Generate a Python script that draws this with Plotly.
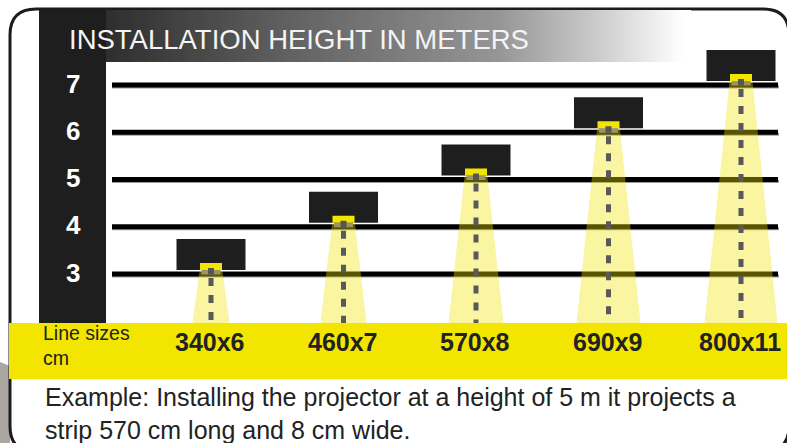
import plotly.graph_objects as go

# ---------------- data ----------------
heights = [3, 4, 5, 6, 7]
height_labels = ["3", "4", "5", "6", "7"]
sizes = ["340x6", "460x7", "570x8", "690x9", "800x11"]
title_text = "INSTALLATION HEIGHT IN METERS"
band_caption = "Line sizes<br>cm"
example_text = ("Example: Installing the projector at a height of 5 m it projects a<br>"
                "strip 570 cm long and 8 cm wide.")

# ---------------- geometry helpers (styling) ----------------
W, H = 787, 443
X0_PX, X_STEP = 211.0, 132.5     # pixel of first column centre, px per column
Y0_PX, Y_STEP = 415.75, 47.25    # pixel of 0 m, px per metre

xr = [-X0_PX / X_STEP, (W - X0_PX) / X_STEP]
yr = [(Y0_PX - H) / Y_STEP, Y0_PX / Y_STEP]


def px(x):
    return x / W


def py(y):
    return 1 - y / H


def dxp(p):
    return p / X_STEP


def dyp(p):
    return p / Y_STEP


band_top_m = (Y0_PX - 323) / Y_STEP
band_bot_m = (Y0_PX - 379) / Y_STEP
FONT = "Liberation Sans, Arial, sans-serif"

shapes = []

# outside photo fragment (bottom-left)
shapes.append(dict(type="path", xref="paper", yref="paper", layer="below",
                   path=f"M {px(0)},{py(362)} L {px(10)},{py(366)} L {px(10)},{py(443)} L {px(0)},{py(443)} Z",
                   fillcolor="#a9a7a0", line=dict(width=0)))

# rounded frame
L, T, R, B, r = 10, 9, 789, 452, 26
def P(x, y):
    return f"{px(x)},{py(y)}"
frame_path = (f"M {P(L + r, T)} L {P(R - r, T)} Q {P(R, T)} {P(R, T + r)} "
              f"L {P(R, B - r)} Q {P(R, B)} {P(R - r, B)} L {P(L + r, B)} "
              f"Q {P(L, B)} {P(L, B - r)} L {P(L, T + r)} Q {P(L, T)} {P(L + r, T)} Z")
shapes.append(dict(type="path", xref="paper", yref="paper", layer="below",
                   path=frame_path, fillcolor="white", line=dict(color="#1c1c1c", width=3)))

# header gradient
stops = [(106, 46), (300, 100), (500, 150), (600, 205), (683, 255)]


def grey_at(x):
    for (x1, g1), (x2, g2) in zip(stops[:-1], stops[1:]):
        if x1 <= x <= x2:
            return g1 + (g2 - g1) * (x - x1) / (x2 - x1)
    return 255


shapes.append(dict(type="rect", xref="paper", yref="paper", layer="below",
                   x0=px(39), x1=px(106), y0=py(62), y1=py(10),
                   fillcolor="#1e1e1e", line=dict(width=0)))
xs = 106
while xs < 690:
    g = int(round(grey_at(xs + 1.5)))
    shapes.append(dict(type="rect", xref="paper", yref="paper", layer="below",
                       x0=px(xs), x1=px(xs + 3.2), y0=py(62), y1=py(10),
                       fillcolor=f"rgb({g},{g},{g})", line=dict(width=0)))
    xs += 3

# left dark column
shapes.append(dict(type="rect", xref="paper", yref="paper", layer="below",
                   x0=px(39), x1=px(106), y0=py(324), y1=py(62),
                   fillcolor="#1e1e1e", line=dict(width=0)))

# horizontal height lines
for h in heights:
    shapes.append(dict(type="line", xref="paper", yref="y", layer="below",
                       x0=px(112), x1=px(779), y0=h - dyp(2), y1=h - dyp(2),
                       line=dict(color="#9a9a9a", width=3)))
    shapes.append(dict(type="line", xref="paper", yref="y", layer="below",
                       x0=px(112), x1=px(778), y0=h, y1=h,
                       line=dict(color="#000000", width=5)))

# yellow band
shapes.append(dict(type="rect", xref="paper", yref="y", layer="below",
                   x0=px(9), x1=px(787), y0=band_bot_m, y1=band_top_m,
                   fillcolor="#f2e600", line=dict(width=0)))

# ---------------- traces: beams and dashed axes ----------------
fig = go.Figure()
for i, h in enumerate(heights):
    top = dxp(11.5)
    bot = dxp(18.5 + 4.5 * (h - heights[0]))
    ytop = h + dyp(3)
    fig.add_trace(go.Scatter(
        x=[i - top, i + top, i + bot, i - bot, i - top],
        y=[ytop, ytop, band_top_m, band_top_m, ytop],
        fill="toself", fillcolor="rgba(242,228,0,0.37)",
        mode="lines", line=dict(width=0), hoverinfo="skip", showlegend=False))
for i, h in enumerate(heights):
    fig.add_trace(go.Scatter(
        x=[i, i], y=[h - dyp(4), band_top_m],
        mode="lines", line=dict(color="#595959", width=5, dash="8px,9px"),
        hoverinfo="skip", showlegend=False))

# ---------------- projectors (above traces) ----------------
for i, h in enumerate(heights):
    base = h + dyp(4)
    shapes.append(dict(type="rect", xref="x", yref="y", layer="above",
                       x0=i - dxp(34.5), x1=i + dxp(34.5), y0=base, y1=base + dyp(31),
                       fillcolor="#1e1e1e", line=dict(width=0)))
    shapes.append(dict(type="rect", xref="x", yref="y", layer="above",
                       x0=i - dxp(11), x1=i + dxp(11), y0=base, y1=base + dyp(7),
                       fillcolor="#f2e600", line=dict(width=0)))
    shapes.append(dict(type="rect", xref="x", yref="y", layer="above",
                       x0=i - dxp(9.5), x1=i + dxp(9.5), y0=base - dyp(4.5), y1=base,
                       fillcolor="#9c9562", line=dict(width=0)))
    shapes.append(dict(type="rect", xref="x", yref="y", layer="above",
                       x0=i - dxp(3), x1=i + dxp(3), y0=base - dyp(4.5), y1=base + dyp(2),
                       fillcolor="#555555", line=dict(width=0)))

# ---------------- annotations ----------------
ann = []
ann.append(dict(text=title_text, xref="paper", yref="paper", x=px(67), y=py(39),
                xanchor="left", yanchor="middle", showarrow=False,
                font=dict(family=FONT, size=27.5, color="#f4f4f4")))
for h, lab in zip(heights, height_labels):
    ann.append(dict(text=f"<b>{lab}</b>", xref="paper", yref="y", x=px(73), y=h + dyp(1.5),
                    xanchor="center", yanchor="middle", showarrow=False,
                    font=dict(family=FONT, size=26, color="#ffffff")))
for i, s in enumerate(sizes):
    ann.append(dict(text=f"<b>{s}</b>", xref="x", yref="y", x=i - dxp(1), y=(Y0_PX - 342) / Y_STEP,
                    xanchor="center", yanchor="middle", showarrow=False,
                    font=dict(family=FONT, size=25, color="#222222")))
ann.append(dict(text=band_caption, xref="paper", yref="y", x=px(41), y=(Y0_PX - 345) / Y_STEP,
                xanchor="left", yanchor="middle", align="left", showarrow=False,
                font=dict(family=FONT, size=19.5, color="#222222")))
ann.append(dict(text=example_text, xref="paper", yref="paper", x=px(43), y=py(413),
                xanchor="left", yanchor="middle", align="left", showarrow=False,
                font=dict(family=FONT, size=25, color="#222222")))

fig.update_layout(
    width=W, height=H, margin=dict(l=0, r=0, t=0, b=0),
    paper_bgcolor="white", plot_bgcolor="rgba(0,0,0,0)",
    xaxis=dict(range=xr, visible=False, fixedrange=True),
    yaxis=dict(range=yr, visible=False, fixedrange=True),
    shapes=shapes, annotations=ann, showlegend=False,
)
fig.write_html("out.html", config={"displayModeBar": False},
               post_script="document.body.style.margin='0';document.body.style.overflow='hidden';")
